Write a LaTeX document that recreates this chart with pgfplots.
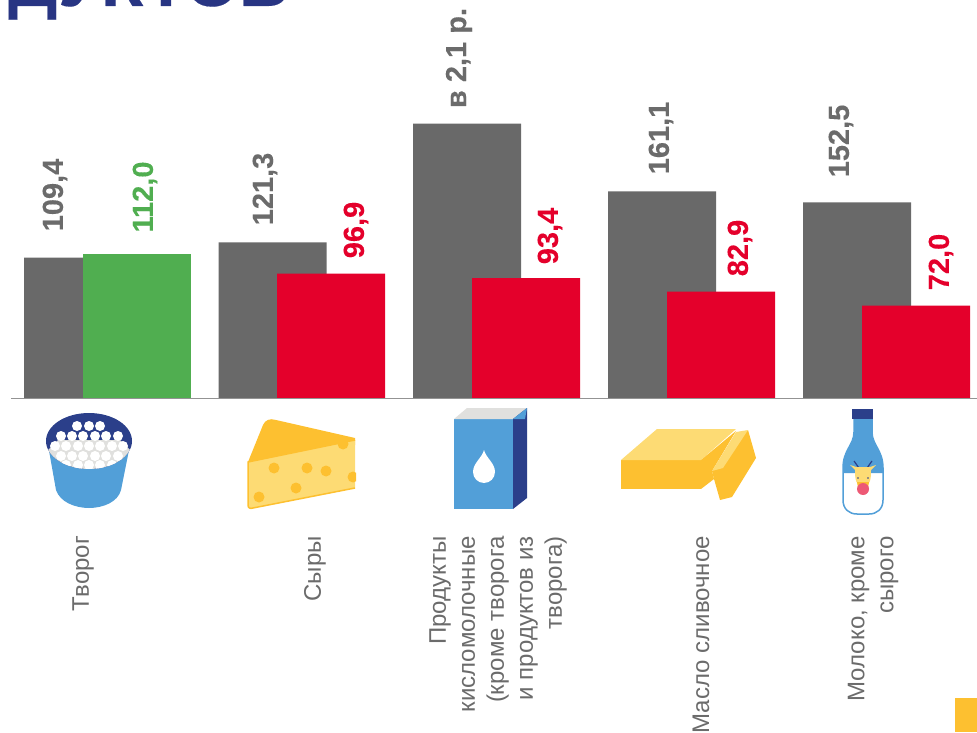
\documentclass[border=0pt]{standalone}
\usepackage{pgfplots}
\pgfplotsset{compat=1.18}
\usepackage{fontspec}
\setmainfont{Liberation Sans}[BoldFeatures={FakeBold=0.25}]
\definecolor{bargray}{HTML}{696969}
\definecolor{txtgray}{HTML}{6B6B6B}
\definecolor{barred}{HTML}{E4002B}
\definecolor{bargreen}{HTML}{50AE50}
\definecolor{navy}{HTML}{2B3F8A}
\definecolor{titleblue}{HTML}{283583}
\definecolor{amber}{HTML}{FDC030}
\definecolor{lightamber}{HTML}{FDDB74}
\definecolor{skyb}{HTML}{529FD8}
\definecolor{lgray}{HTML}{E0E0DE}
\begin{document}
\begin{tikzpicture}
\path[use as bounding box] (0,0) rectangle (977pt,732pt);
\clip (0,0) rectangle (977pt,732pt);
\begin{axis}[
  at={(0,0)},anchor=south west,
  scale only axis,width=977pt,height=732pt,
  axis lines=none,
  xmin=0,xmax=977,
  ymin=-260.5,ymax=310.4,
  clip=false,
  ybar,bar shift=0pt,bar width=108pt,
]
\addplot[fill=bargray,draw=none] coordinates {(78,109.4)(272.5,121.3)(467,214)(662,161.1)(857,152.5)};
\addplot[fill=bargreen,draw=none] coordinates {(137,112.0)};
\addplot[fill=barred,draw=none] coordinates {(331,96.9)(526,93.4)(721,82.9)(916,72.0)};
\end{axis}
\begin{scope}[x=1pt,y=-1pt,shift={(0pt,732pt)}]
% title fragment
\node[anchor=base west,inner sep=0pt,text=titleblue,font=\fontsize{69}{69}\selectfont\bfseries] at (8,6) {ДУКТОВ};
% baseline
\draw[color=gray!85,line width=1pt] (11,398) -- (977,398);
% value labels
\tikzset{val/.style={rotate=90,inner sep=0pt,font=\fontsize{29}{29}\selectfont\bfseries}}
\node[val,text=txtgray] at (55,195) {109,4};
\node[val,text=bargreen] at (145,197) {112,0};
\node[val,text=txtgray] at (265,189) {121,3};
\node[val,text=barred] at (356,230) {96,9};
\node[val,text=txtgray] at (459,58) {в 2,1 р.};
\node[val,text=barred] at (550,236) {93,4};
\node[val,text=txtgray] at (661,138) {161,1};
\node[val,text=barred] at (740,248) {82,9};
\node[val,text=txtgray] at (841,141) {152,5};
\node[val,text=barred] at (941,262) {72,0};
% category labels
\tikzset{cat/.style={rotate=90,anchor=east,inner sep=0pt,align=right,text=txtgray,font=\fontsize{24}{29}\selectfont}}
\node[cat] at (83,536) {Творог};
\node[cat] at (315,536) {Сыры};
\node[cat] at (498,536) {Продукты\\кисломолочные\\(кроме творога\\и продуктов из\\творога)};
\node[cat] at (701,536) {Масло сливочное};
\node[cat] at (873,536) {Молоко, кроме\\сырого};
% corner square
\fill[amber] (955,698) rectangle (977,732);
% tub
\fill[skyb] (48,445) -- (56,490) .. controls (60,502) and (75,508) .. (89,508) .. controls (103,508) and (118,502) .. (121,490) -- (130,445) -- cycle;
\fill[navy] (89,441) ellipse [x radius=43,y radius=28];
\begin{scope}
\clip (89,441) ellipse [x radius=43,y radius=28];
\fill[lgray] (46,452) -- (58,440) -- (120,440) -- (132,452) -- (132,470) -- (46,470) -- cycle;
\foreach \x in {77,89,100} \fill[white] (\x,426) circle (5);
\foreach \x in {61,72,83,95,106,118} \fill[white] (\x,436) circle (5);
\foreach \x in {55,66,78,89,100,112,123} \fill[white] (\x,446) circle (5);
\foreach \x in {61,72,83,95,106,118} \fill[white] (\x,456) circle (5);
\foreach \x in {66,78,89,100,112} \fill[white] (\x,465) circle (5);
\end{scope}
% cheese
\fill[amber] (248,462) -- (263,425) .. controls (265,420) and (270,418) .. (276,420) -- (355,438) -- (355,445) -- cycle;
\filldraw[fill=lightamber,draw=amber,line width=1.5pt] (355,440) -- (248,462) -- (248,505) .. controls (248,508) and (250,509) .. (253,508) -- (355,488);
\begin{scope}
\clip (240,410) rectangle (356,515);
\foreach \p/\q in {274/468,307/468,326/471,353/477,296/488,259/497,343/444} \fill[amber] (\p,\q) circle (5.5);
\end{scope}
% box
\fill[skyb] (454,419) rectangle (513,509);
\fill[lgray] (454,419) -- (467,408) -- (527,408) -- (513,419) -- cycle;
\fill[navy] (513,419) -- (527,408) -- (527,498) -- (513,509) -- cycle;
\fill[skyb] (513,419) -- (527,408) -- (525,419) -- cycle;
\fill[white] (484,450) .. controls (486,458) and (495,463) .. (495,472) .. controls (495,478) and (490,483) .. (484,483) .. controls (478,483) and (473,478) .. (473,472) .. controls (473,463) and (482,458) .. (484,450) -- cycle;
% butter
\fill[amber] (621,460) rectangle (701,489);
\fill[lightamber] (621,460) -- (657,429) -- (736,429) -- (701,460) -- cycle;
\fill[amber] (701,460) -- (736,431) -- (712,471) -- (714,479) -- (701,489) -- cycle;
\fill[amber] (712,471) -- (748,430) -- (756,458) -- (732,497) -- (720,500) -- (714,479) -- cycle;
\fill[lightamber] (712,471) -- (736,432) -- (748,430) -- (723,468) -- cycle;
% bottle
\filldraw[fill=white,draw=skyb,line width=1.5pt] (854,419) -- (854,432) .. controls (854,445) and (843,450) .. (843,468) -- (843,500) .. controls (843,509) and (849,514) .. (857,514) -- (869,514) .. controls (877,514) and (883,509) .. (883,500) -- (883,468) .. controls (883,450) and (872,445) .. (872,432) -- (872,419) -- cycle;
\fill[skyb] (854,419) -- (854,432) .. controls (854,445) and (843,450) .. (843,468) -- (843,473) -- (883,473) -- (883,468) .. controls (883,450) and (872,445) .. (872,432) -- (872,419) -- cycle;
\fill[navy] (852,409) rectangle (873,419);
\draw[navy,line width=1.2pt] (859,468) -- (854,461);
\draw[navy,line width=1.2pt] (867,468) -- (872,461);
\fill[lightamber] (850,465) -- (856,467) -- (870,467) -- (876,465) -- (871,470) .. controls (871,480) and (870,486) .. (863,486) .. controls (856,486) and (855,480) .. (855,470) -- cycle;
\fill[navy] (858,478) circle (0.9);
\fill[navy] (868,478) circle (0.9);
\fill[amber] (857,482) -- (869,482) -- (868,488) -- (858,488) -- cycle;
\fill[barred!65!white] (863,489) circle (6);
\end{scope}
\end{tikzpicture}
\end{document}
